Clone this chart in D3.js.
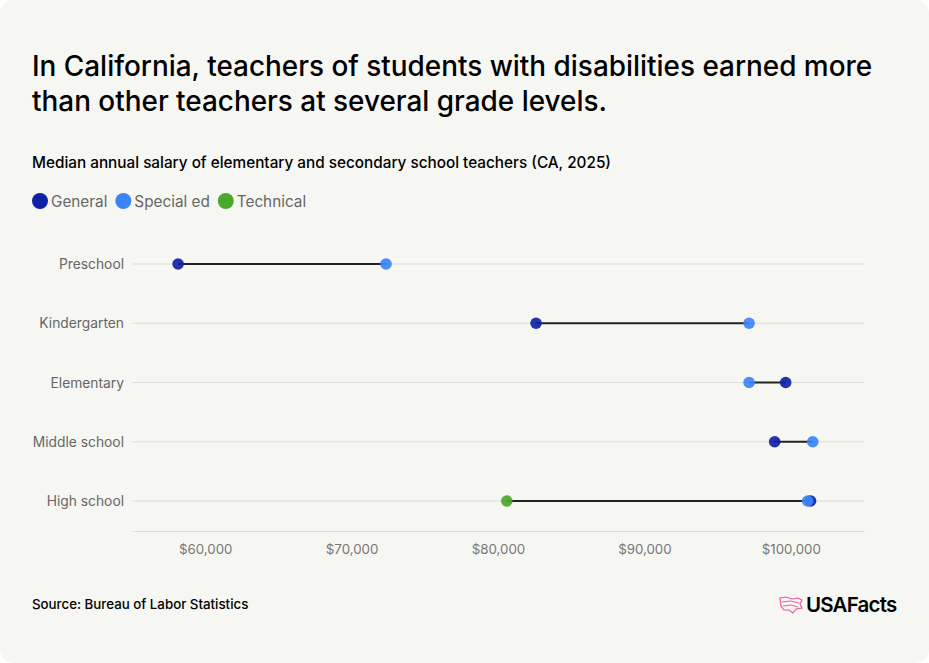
<!DOCTYPE html>
<html lang="en">
<head>
  <meta charset="UTF-8">
  <title>California teacher salaries</title>
  <script src="https://d3js.org/d3.v7.min.js"></script>
  <style>
    body {
      margin: 0;
      background-color: #ffffff;
      font-family: 'Inter', 'Liberation Sans', sans-serif;
    }
    svg { display: block; }
  </style>
</head>
<body>
  <script>
    // Data
    const grades = ["Preschool", "Kindergarten", "Elementary", "Middle school", "High school"];
    const seriesNames = ["General", "Special ed", "Technical"];
    const seriesColors = ["#1121a6", "#3b84f8", "#4ca72d"];
    const generalSalary = [58150, 82600, 99650, 98900, 101350];
    const specialEdSalary = [72350, 97150, 97150, 101500, 101150];
    const technicalSalary = [null, null, null, null, 80600];
    const xTicks = [60000, 70000, 80000, 90000, 100000];

    const width = 929, height = 663;
    const svg = d3.select("body").append("svg")
      .attr("width", width)
      .attr("height", height);

    // Card background
    svg.append("rect")
      .attr("x", 0).attr("y", 0)
      .attr("width", width).attr("height", height)
      .attr("rx", 14)
      .attr("fill", "#f6f6f2");

    // Title
    const title = svg.append("text")
      .attr("x", 32)
      .attr("y", 76)
      .attr("font-size", 27.9)
      .attr("font-weight", 500)
      .attr("fill", "#000");
    title.append("tspan").attr("x", 32).text("In California, teachers of students with disabilities earned more");
    title.append("tspan").attr("x", 32).attr("dy", 35).text("than other teachers at several grade levels.");

    svg.append("text")
      .attr("x", 32)
      .attr("y", 168)
      .attr("font-size", 15.3)
      .attr("font-weight", 500)
      .attr("fill", "#000")
      .text("Median annual salary of elementary and secondary school teachers (CA, 2025)");

    // Legend
    const legend = svg.append("g").attr("transform", "translate(32,201)");
    let lx = 0;
    seriesNames.forEach((name, i) => {
      const g = legend.append("g").attr("transform", `translate(${lx},0)`);
      g.append("circle").attr("cx", 8).attr("cy", 0).attr("r", 8).attr("fill", seriesColors[i]);
      const t = g.append("text")
        .attr("x", 19)
        .attr("y", 5.5)
        .attr("font-size", 15.3)
        .attr("fill", "#666")
        .text(name);
      lx += 19 + t.node().getComputedTextLength() + 8;
    });

    // Scales
    const x = d3.scaleLinear().domain([55000, 105000]).range([132, 864]);
    const y = d3.scalePoint().domain(grades).range([264, 501]);

    // Gridlines per row
    svg.append("g").selectAll("line")
      .data(grades)
      .join("line")
      .attr("x1", 132).attr("x2", 864)
      .attr("y1", d => y(d)).attr("y2", d => y(d))
      .attr("stroke", "#dcdcd8")
      .attr("stroke-width", 1);

    // Row labels
    svg.append("g").selectAll("text")
      .data(grades)
      .join("text")
      .attr("x", 124)
      .attr("y", d => y(d) + 5)
      .attr("text-anchor", "end")
      .attr("font-size", 13.8)
      .attr("fill", "#666")
      .text(d => d);

    // X axis
    const xAxis = svg.append("g")
      .attr("transform", "translate(0,531)")
      .call(d3.axisBottom(x).tickValues(xTicks).tickSize(0).tickPadding(14)
        .tickFormat(d => "$" + d3.format(",")(d)));
    xAxis.select(".domain").attr("stroke", "#dcdcd8");
    xAxis.selectAll("text")
      .attr("font-family", "'Inter', 'Liberation Sans', sans-serif")
      .attr("font-size", 13.3)
      .attr("fill", "#777");

    // Rows of dumbbells
    const rows = grades.map((g, i) => {
      const vals = [generalSalary[i], specialEdSalary[i], technicalSalary[i]];
      return { grade: g, vals };
    });

    svg.append("g").selectAll("line")
      .data(rows)
      .join("line")
      .attr("x1", d => x(d3.min(d.vals.filter(v => v != null))))
      .attr("x2", d => x(d3.max(d.vals.filter(v => v != null))))
      .attr("y1", d => y(d.grade))
      .attr("y2", d => y(d.grade))
      .attr("stroke", "#222")
      .attr("stroke-width", 2);

    // general first, special ed drawn over it, then technical
    const dots = [];
    rows.forEach(r => {
      [0, 1, 2].forEach(s => {
        if (r.vals[s] != null) dots.push({ grade: r.grade, value: r.vals[s], s });
      });
    });

    svg.append("g").selectAll("circle")
      .data(dots)
      .join("circle")
      .attr("cx", d => x(d.value))
      .attr("cy", d => y(d.grade))
      .attr("r", 5.8)
      .attr("fill", d => seriesColors[d.s])
      .attr("fill-opacity", 0.92);

    // Footer
    svg.append("text")
      .attr("x", 32)
      .attr("y", 609)
      .attr("font-size", 13.3)
      .attr("font-weight", 500)
      .attr("fill", "#000")
      .text("Source: Bureau of Labor Statistics");

    // Logo
    const logo = svg.append("g").attr("transform", "translate(780,597)");
    logo.append("path")
      .attr("d", "M0,1 L6,0 L12,2 L18,1 L22,3 L20,7 L22,11 L16,12 L13,16 L9,13 L4,13 L1,9 Z")
      .attr("fill", "none")
      .attr("stroke", "#ea5a9f")
      .attr("stroke-width", 1.2);
    logo.append("path")
      .attr("d", "M2,5 L10,4 L19,6 M3,9 L11,8 L18,10")
      .attr("fill", "none")
      .attr("stroke", "#ea5a9f")
      .attr("stroke-width", 1);
    logo.append("text")
      .attr("x", 26)
      .attr("y", 15)
      .attr("font-size", 20.5)
      .attr("font-weight", 600)
      .attr("letter-spacing", -0.8)
      .attr("fill", "#000")
      .text("USAFacts");
  </script>
</body>
</html>
